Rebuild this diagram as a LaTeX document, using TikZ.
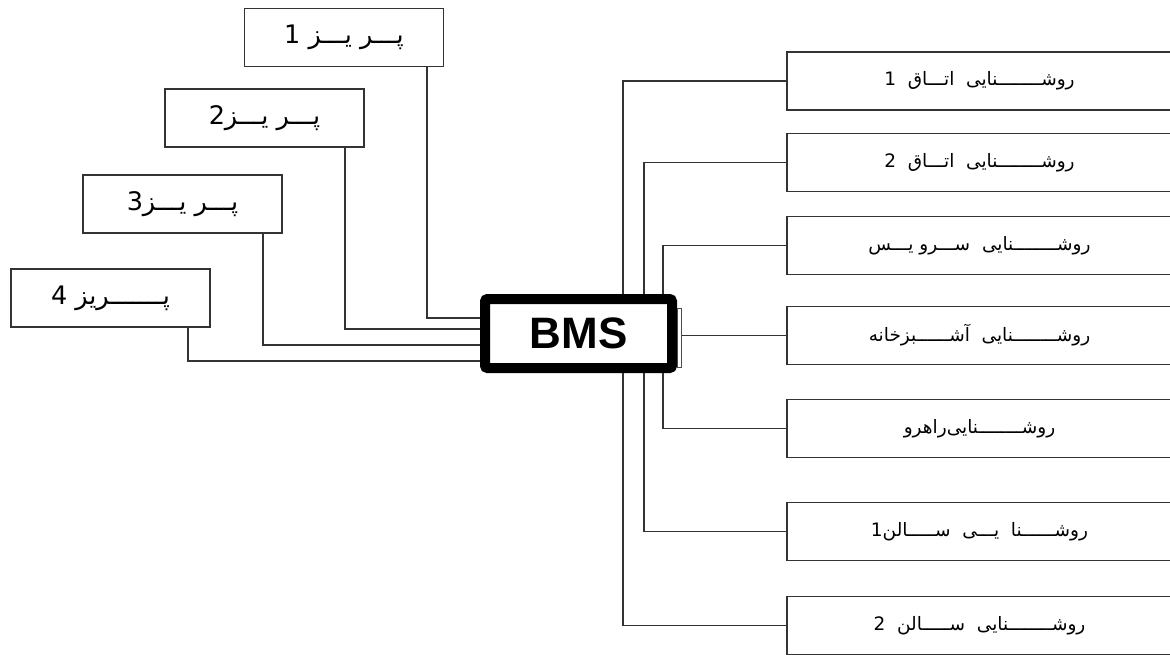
\documentclass[tikz,border=0pt]{standalone}
\usepackage{fontspec}
\setmainfont{Liberation Sans}
\newfontfamily\arabicfont[Script=Arabic]{DejaVu Sans}
\TeXXeTstate=1
\begin{document}
\begin{tikzpicture}[x=1pt,y=-1pt,
  conn/.style={draw=black!80, line width=1.3pt},
  lbox/.style={draw=black!80, line width=1.3pt, minimum width=199pt, minimum height=58pt, inner sep=0pt, font=\arabicfont\fontsize{25.5}{29}\selectfont},
  rbox/.style={draw=black!80, line width=1.3pt, minimum width=385pt, minimum height=58pt, inner sep=0pt, font=\arabicfont\fontsize{18.5}{22}\selectfont},
  bmsbox/.style={draw=black, line width=10pt, rounded corners=2.5pt, minimum width=187pt, minimum height=69pt, inner sep=0pt, font=\bfseries\fontsize{44}{50}\selectfont},
  tab/.style={draw=black!70, line width=0.9pt}
]
\useasboundingbox (0,0) rectangle (1170,654);
\fill[white] (0,0) rectangle (1170,654);
\clip (0,0) rectangle (1170,654);

% left boxes
\node[lbox] (L1) at (344,37.5) {\beginR پـــر یـــز 1\endR};
\node[lbox] (L2) at (264.5,118) {\beginR پـــر یـــز2\endR};
\node[lbox] (L3) at (182.5,204) {\beginR پـــر یـــز3\endR};
\node[lbox] (L4) at (110.5,298) {\beginR پـــــــریز 4\endR};

% right boxes (right border lies outside the page, as in the reference)
\node[rbox] (R1) at (979.5,81) {\beginR روشــــــــنایی \ اتـــاق \ 1\endR\hspace{6pt}};
\node[rbox] (R2) at (979.5,162.5) {\beginR روشــــــــنایی \ اتـــاق \ 2\endR\hspace{6pt}};
\node[rbox] (R3) at (979.5,245.5) {\beginR روشــــــــنایی \ ســـرو یـــس\endR\hspace{6pt}};
\node[rbox] (R4) at (979.5,335.5) {\beginR روشــــــــنایی \ آشــــــبزخانه\endR\hspace{6pt}};
\node[rbox] (R5) at (979.5,428.5) {\beginR روشــــــــنایی^^^^200cراهرو\endR\hspace{6pt}};
\node[rbox] (R6) at (979.5,531.5) {\beginR روشــــــنا \ یـــی \ ســـــالن1\endR\hspace{6pt}};
\node[rbox] (R7) at (979.5,625.5) {\beginR روشــــــــنایی \ ســـــالن \ 2\endR\hspace{6pt}};

% BMS
\node[bmsbox] (bms) at (578.5,333.5) {BMS};
\node[tab, minimum width=4pt, minimum height=59pt, inner sep=0pt, anchor=west] (tab) at (677,337.5) {};

% left connectors
\coordinate (t1) at (427,318);
\coordinate (t2) at (345,329);
\coordinate (t3) at (263,345);
\coordinate (t4) at (188,361);
\draw[conn] (t1 |- L1.south) -- (t1) -- (t1 -| bms.west);
\draw[conn] (t2 |- L2.south) -- (t2) -- (t2 -| bms.west);
\draw[conn] (t3 |- L3.south) -- (t3) -- (t3 -| bms.west);
\draw[conn] (t4 |- L4.south) -- (t4) -- (t4 -| bms.west);

% right connectors
\coordinate (c1) at (623,0);
\coordinate (c2) at (644,0);
\coordinate (c3) at (663,0);
\draw[conn] (c1 |- bms.north) |- (R1.west);
\draw[conn] (c2 |- bms.north) |- (R2.west);
\draw[conn] (c3 |- bms.north) |- (R3.west);
\draw[conn] (tab.east |- R4.west) -- (R4.west);
\draw[conn] (c3 |- bms.south) |- (R5.west);
\draw[conn] (c2 |- bms.south) |- (R6.west);
\draw[conn] (c1 |- bms.south) |- (R7.west);
\end{tikzpicture}
\end{document}
